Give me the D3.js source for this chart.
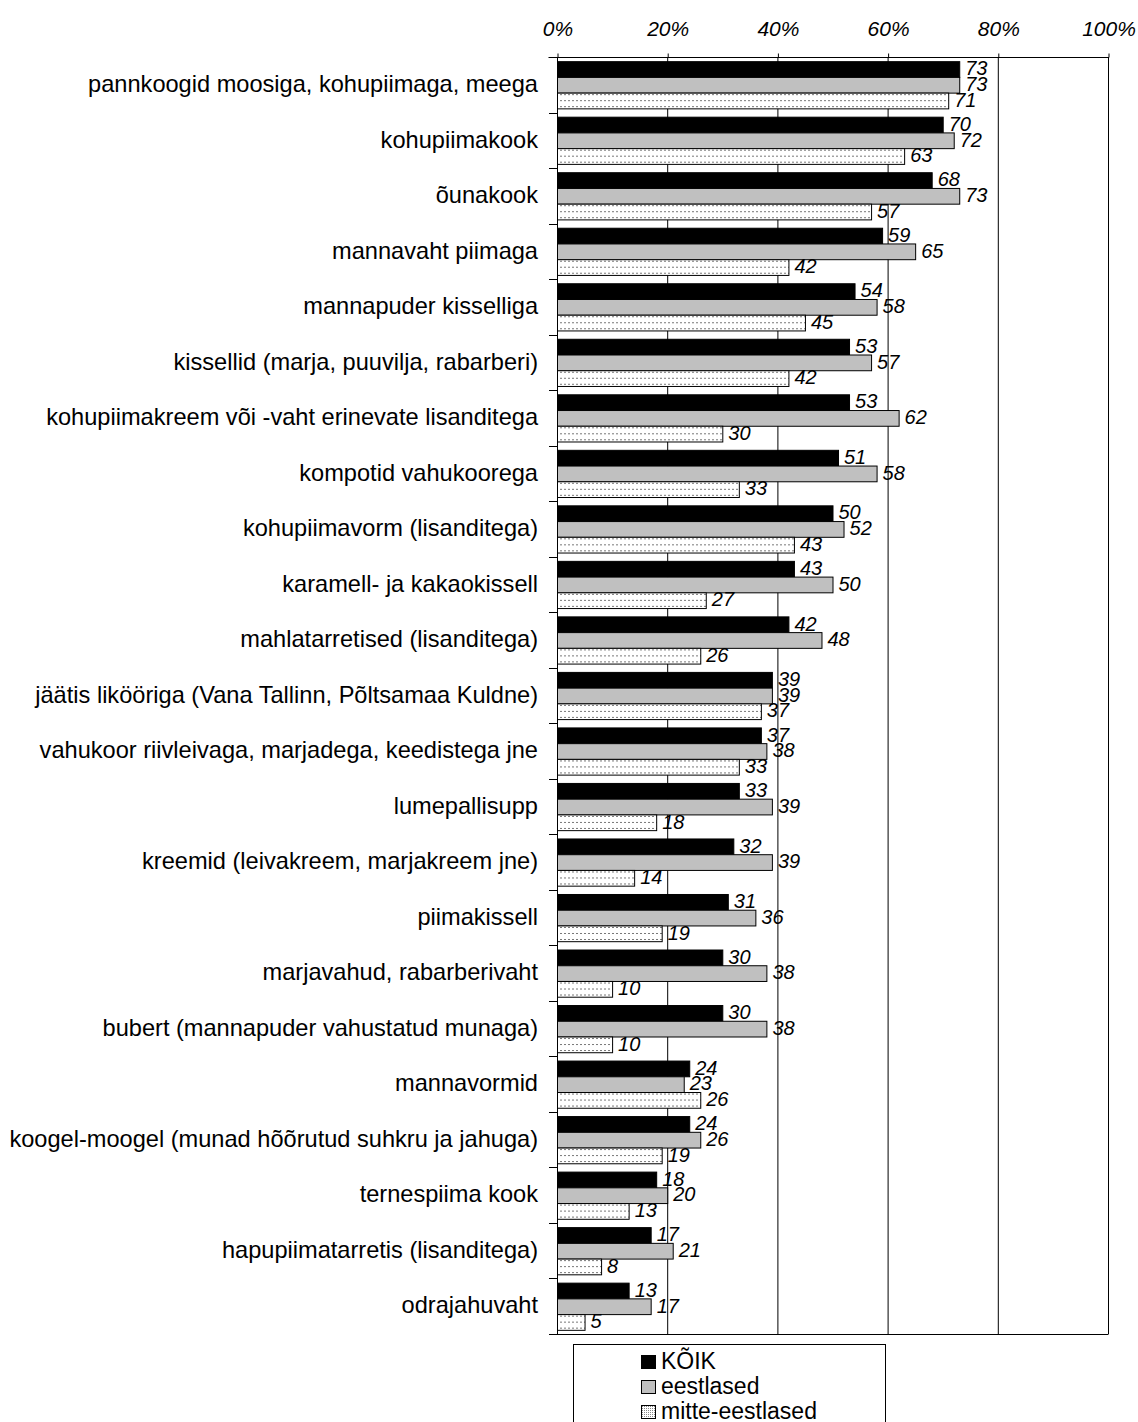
<!DOCTYPE html>
<html><head><meta charset="utf-8">
<script src="https://cdn.jsdelivr.net/npm/d3@7"></script>
<style>
html,body{margin:0;padding:0;background:#fff;}
svg{display:block;font-family:"Liberation Sans",Arial,sans-serif;}
</style></head>
<body>
<svg id="chart" width="1138" height="1422"></svg>
<script>
const categories = [
  "pannkoogid moosiga, kohupiimaga, meega",
  "kohupiimakook",
  "õunakook",
  "mannavaht piimaga",
  "mannapuder kisselliga",
  "kissellid (marja, puuvilja, rabarberi)",
  "kohupiimakreem või -vaht erinevate lisanditega",
  "kompotid vahukoorega",
  "kohupiimavorm (lisanditega)",
  "karamell- ja kakaokissell",
  "mahlatarretised (lisanditega)",
  "jäätis likööriga (Vana Tallinn, Põltsamaa Kuldne)",
  "vahukoor riivleivaga, marjadega, keedistega jne",
  "lumepallisupp",
  "kreemid (leivakreem, marjakreem jne)",
  "piimakissell",
  "marjavahud, rabarberivaht",
  "bubert (mannapuder vahustatud munaga)",
  "mannavormid",
  "koogel-moogel (munad hõõrutud suhkru ja jahuga)",
  "ternespiima kook",
  "hapupiimatarretis (lisanditega)",
  "odrajahuvaht"
];
const seriesNames = ["KÕIK", "eestlased", "mitte-eestlased"];
const koik      = [73,70,68,59,54,53,53,51,50,43,42,39,37,33,32,31,30,30,24,24,18,17,13];
const eestlased = [73,72,73,65,58,57,62,58,52,50,48,39,38,39,39,36,38,38,23,26,20,21,17];
const mitte     = [71,63,57,42,45,42,30,33,43,27,26,37,33,18,14,19,10,10,26,19,13, 8, 5];
const xTicks = [0,20,40,60,80,100];
const xTickLabels = ["0%","20%","40%","60%","80%","100%"];

const series = [koik, eestlased, mitte];
const fills = ["#000000", "#c0c0c0", "url(#dots)"];

const svg = d3.select("#chart");
const defs = svg.append("defs");
const pat = defs.append("pattern").attr("id","dots").attr("patternUnits","userSpaceOnUse")
  .attr("width",4).attr("height",6);
pat.append("rect").attr("width",4).attr("height",6).attr("fill","#fff");
pat.append("rect").attr("x",0).attr("y",3).attr("width",2).attr("height",1).attr("fill","#777");
const pat2 = defs.append("pattern").attr("id","dotsLeg").attr("patternUnits","userSpaceOnUse")
  .attr("width",2).attr("height",2);
pat2.append("rect").attr("width",2).attr("height",2).attr("fill","#fff");
pat2.append("rect").attr("x",0).attr("y",0).attr("width",1).attr("height",1).attr("fill","#888");

const x0 = 557, x1 = 1108, yTop = 57, yBot = 1334;
const x = d3.scaleLinear().domain([0,100]).range([x0,x1]);
const y = d3.scaleBand().domain(categories).range([yTop,yBot]).paddingInner(0.15).paddingOuter(0.075);
const ySub = d3.scaleBand().domain([0,1,2]).range([0,y.bandwidth()]);
const step = y.step();

// gridlines
svg.append("g").selectAll("line").data(xTicks.slice(1)).join("line")
  .attr("x1",d=>x(d)+0.5).attr("x2",d=>x(d)+0.5)
  .attr("y1",yTop).attr("y2",yBot).attr("stroke","#000").attr("stroke-width",1);

// bars
const groups = svg.append("g").selectAll("g").data(categories).join("g")
  .attr("transform",d=>`translate(0,${y(d)})`);
series.forEach((vals,si)=>{
  groups.append("rect")
    .attr("x",x(0)+0.5)
    .attr("y",(d,i)=>ySub(si)+0.5)
    .attr("width",(d,i)=>x(vals[i])-x(0))
    .attr("height",ySub.bandwidth())
    .attr("fill",fills[si]).attr("stroke","#000").attr("stroke-width",1);
});
series.forEach((vals,si)=>{
  groups.append("text")
    .attr("x",(d,i)=>x(vals[i])+6)
    .attr("y",(d,i)=>ySub(si)+ySub.bandwidth()/2+1)
    .attr("dominant-baseline","middle")
    .attr("font-size",20).attr("font-style","italic")
    .text((d,i)=>vals[i]);
});

// top axis
const xAxis = d3.axisTop(x).tickValues(xTicks).tickSize(4).tickPadding(18)
  .tickFormat((d,i)=>xTickLabels[i]);
const gx = svg.append("g").attr("transform",`translate(0.5,${yTop+0.5})`).call(xAxis);
gx.select(".domain").attr("d",`M${x0-9},0H${x1}`);
gx.selectAll("text").attr("font-size",21).attr("font-style","italic").attr("font-family","Liberation Sans, Arial, sans-serif");

// left axis
const boundaries = d3.range(categories.length+1).map(i=>yTop+i*step);
const gy = svg.append("g");
gy.append("line").attr("x1",x0+0.5).attr("x2",x0+0.5).attr("y1",yTop).attr("y2",yBot+0.5).attr("stroke","#000");
gy.selectAll(".tk").data(boundaries).join("line").attr("class","tk")
  .attr("x1",x0-8).attr("x2",x0).attr("y1",d=>Math.round(d)+0.5).attr("y2",d=>Math.round(d)+0.5).attr("stroke","#000");
svg.append("line").attr("x1",x0-8).attr("x2",x1+0.5).attr("y1",yBot+0.5).attr("y2",yBot+0.5).attr("stroke","#000");

// category labels
svg.append("g").selectAll("text").data(categories).join("text")
  .attr("x",538).attr("y",d=>y(d)+y.bandwidth()/2+1)
  .attr("text-anchor","end").attr("dominant-baseline","middle")
  .attr("font-size",23.6).text(d=>d);

// legend
const leg = svg.append("g");
leg.append("rect").attr("x",573.5).attr("y",1344.5).attr("width",312).attr("height",100)
  .attr("fill","#fff").attr("stroke","#000");
const legFills = ["#000","#c0c0c0","url(#dotsLeg)"];
seriesNames.forEach((n,i)=>{
  const cy = 1362 + i*25;
  leg.append("rect").attr("x",641.5).attr("y",cy-6.5).attr("width",14).attr("height",13)
    .attr("fill",legFills[i]).attr("stroke","#000");
  leg.append("text").attr("x",661).attr("y",cy+1).attr("dominant-baseline","middle")
    .attr("font-size",23).text(n);
});
</script>
</body></html>
